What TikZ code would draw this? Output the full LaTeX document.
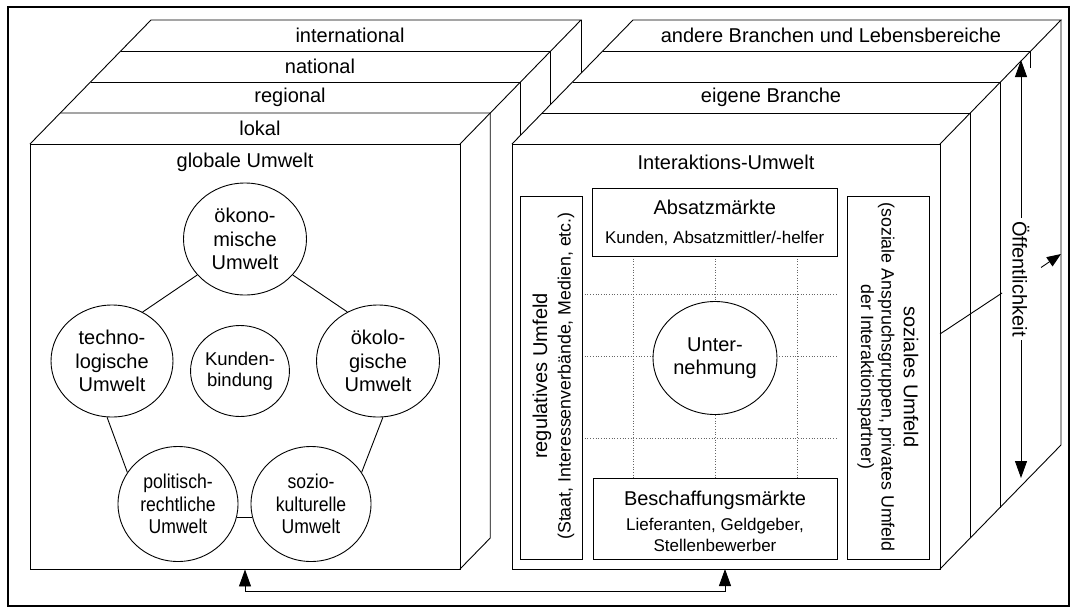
\documentclass[tikz,border=0pt]{standalone}
\usepackage{fontspec}
\setmainfont{Liberation Sans}
\newfontfamily\condfont[FakeStretch=0.88]{Liberation Sans}
\usetikzlibrary{arrows.meta,shapes.geometric,calc}
\begin{document}
\begin{tikzpicture}[x=1pt,y=-1pt,
  ln/.style={line width=0.9pt},
  big/.style={font=\fontsize{20}{23.3}\selectfont},
  small/.style={font=\fontsize{17}{20}\selectfont},
  rsmall/.style={font=\fontsize{17.8}{20.5}\selectfont},
  circ/.style={draw,ln,ellipse,inner sep=0pt,align=center,big},
  box/.style={draw,ln,rectangle,inner sep=0pt},
  gridl/.style={dotted,line width=0.7pt,black!60},
  tip/.style={-{Triangle[length=17pt,width=12pt]}},
  tips/.style={{Triangle[length=17pt,width=12pt]}-{Triangle[length=17pt,width=12pt]}},
  smalltip/.style={-{Triangle[length=14pt,width=11pt]}}
]
\useasboundingbox (0,0) rectangle (1077,614);
% outer frame
\draw[line width=1.1pt] (8,7) rectangle (1069,606);

% ---------- left block ----------
\draw[ln] (30,144) -- (151,20) -- (581,20) -- (460,144);
\draw[ln] (60.25,113) -- (490.25,113) -- (490.25,538) -- (460,569);
\draw[ln] (90.5,82) -- (520.5,82) -- (520.5,135.3);
\draw[ln] (120.75,51) -- (550.75,51) -- (550.75,104.3);
\draw[ln] (581,20) -- (581,73.3);
\node[box,minimum width=430pt,minimum height=425pt] (glob) at (245,356.5) {};

\node[big] at (260,128.5) {lokal};
\node[big] at (290,97.5) {regional};
\node[big] at (320,66.5) {national};
\node[big] at (350,35.5) {international};
\node[big] at (245,162) {globale Umwelt};

\node[circ,minimum width=123pt,minimum height=112pt] (oek) at (245,239) {ökono-\\mische\\Umwelt};
\node[circ,minimum width=122pt,minimum height=112pt] (tech) at (112,361) {techno-\\logische\\Umwelt};
\node[circ,minimum width=123pt,minimum height=112pt] (oeko) at (378,361) {ökolo-\\gische\\Umwelt};
\node[circ,minimum width=92pt,minimum height=91pt,font=\fontsize{18.5}{21.5}\selectfont] (kund) at (240,371) {Kunden-\\bindung};
\node[circ,minimum width=120pt,minimum height=115pt,font=\condfont\fontsize{20}{22.5}\selectfont] (pol) at (178,504) {politisch-\\rechtliche\\Umwelt};
\node[circ,minimum width=120pt,minimum height=115pt,font=\condfont\fontsize{20}{22.5}\selectfont] (soz) at (311,504) {sozio-\\kulturelle\\Umwelt};
\draw[ln] (oek.217) -- (tech.58);
\draw[ln] (oek.323) -- (oeko.122);
\draw[ln] (tech.265) -- (pol.148);
\draw[ln] (oeko.275) -- (soz.32);
\draw[ln] (pol.-13) -- (soz.193);

% ---------- right block ----------
\draw[ln] (512,144) -- (633,20) -- (1061,20) -- (940,144);
\draw[ln] (542.25,113) -- (970.25,113) -- (970.25,538);
\draw[ln] (572.5,82) -- (1000.5,82) -- (1000.5,507.5);
\draw[ln] (602.75,51) -- (1030.75,51) -- (1030.75,68);
\draw[ln] (1061,20) -- (1061,445) -- (940,569);
\node[box,minimum width=428pt,minimum height=425pt] (inter) at (726,356.5) {};

\node[big] at (771,97.5) {eigene Branche};
\node[big] at (831,35.5) {andere Branchen und Lebensbereiche};
\node[big] at (726,162) {Interaktions-Umwelt};

% dotted grid
\draw[gridl] (633,256) -- (633,478);
\draw[gridl] (715,256) -- (715,478);
\draw[gridl] (797,256) -- (797,478);
\draw[gridl] (582,294) -- (836,294);
\draw[gridl] (582,356) -- (836,356);
\draw[gridl] (582,438) -- (836,438);

\node[box,minimum width=245.5pt,minimum height=68pt] (abs) at (714.75,222) {};
\node[big] at (714.75,207) {Absatzmärkte};
\node[small] at (714.75,238) {Kunden, Absatzmittler/-helfer};

\node[box,minimum width=244pt,minimum height=81pt] (besch) at (715,518.5) {};
\node[big] at (715,500) {Beschaffungsmärkte};
\node[small] at (715,526) {Lieferanten, Geldgeber,};
\node[small] at (715,545) {Stellenbewerber};

\node[box,minimum width=62pt,minimum height=363pt] (reg) at (551,377.5) {};
\node[big,rotate=90] at (542,376) {regulatives Umfeld};
\node[rsmall,rotate=90] at (566,376) {(Staat, Interessenverbände, Medien, etc.)};

\node[box,minimum width=82.5pt,minimum height=363pt] (sozu) at (888.25,377.5) {};
\node[big,rotate=-90] at (911,377) {soziales Umfeld};
\node[rsmall,rotate=-90,align=center] at (876,377) {(soziale Anspruchsgruppen, privates Umfeld\\der Interaktionspartner)};

\node[circ,fill=white,minimum width=124pt,minimum height=113pt] (unt) at (715,358) {Unter-\\nehmung};

% Oeffentlichkeit
\node[big,rotate=-90] (oef) at (1021,279) {Öffentlichkeit};
\coordinate (oeftop) at (1021,60);
\coordinate (oefbot) at (1021,478);
\draw[ln,tip] (oef.west) -- (oeftop);
\draw[ln,tip] (oef.east) -- (oefbot);
\coordinate (l1) at (940,334);
\coordinate (l2) at (1002,293);
\coordinate (l3) at (1041,267.5);
\coordinate (l4) at (1061,254);
\draw[ln] (l1) -- (l2);
\draw[ln,smalltip] (l3) -- (l4);

% bottom connector
\coordinate (c1) at (245,591);
\coordinate (c2) at (725,591);
\coordinate (ia) at (725,569);
\draw[ln,tips] (glob.south) -- (c1) -- (c2) -- (ia);
\end{tikzpicture}
\end{document}
